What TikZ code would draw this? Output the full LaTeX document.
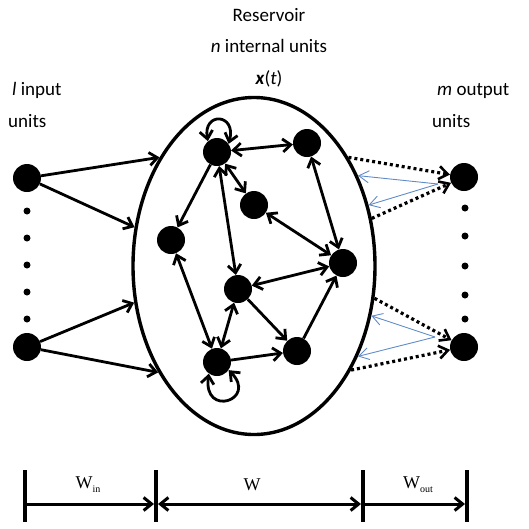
\documentclass[tikz,border=0pt]{standalone}
\usepackage{fontspec}
\setmainfont{Carlito}
\newfontfamily\timesfont{Liberation Serif}
\usetikzlibrary{arrows.meta,shapes.geometric}

\begin{document}
\begin{tikzpicture}[x=1pt,y=-1pt,
    unit/.style={circle, fill=black, inner sep=0pt, minimum size=28pt},
    link/.style={line width=2.8pt, -{Straight Barb[length=8pt,width=13pt]}},
    both/.style={line width=2.8pt, {Straight Barb[length=8pt,width=13pt]}-{Straight Barb[length=8pt,width=13pt]}},
    readout/.style={line width=3.2pt, dash pattern=on 3pt off 3pt, -{Straight Barb[length=9pt,width=13pt,line width=2.6pt]}},
    train/.style={line width=0.9pt, trainblue, -{Straight Barb[length=10pt,width=12pt]}},
    caption/.style={font=\fontsize{19}{22}\selectfont, inner sep=0pt},
    wlabel/.style={font=\timesfont\fontsize{18}{20}\selectfont, inner sep=0pt}]

    % Define colors
    \definecolor{trainblue}{RGB}{95,140,200}

    \useasboundingbox (0,0) rectangle (529,528);

    % Titles
    \node[caption, anchor=base] (title) at (269,21) {Reservoir};
    \node[caption, anchor=base] (count) at (269,52) {\textit{n} internal units};
    \node[caption, anchor=base] (state) at (269,84) {\textbf{\textit{x}}(\textit{t})};
    \node[caption, anchor=base west] (inlab) at (12,95) {\textit{l} input};
    \node[caption, anchor=base west] (inunits) at (8,127) {units};
    \node[caption, anchor=base west] (outlab) at (437,95) {\textit{m} output};
    \node[caption, anchor=base west] (outunits) at (432,127) {units};

    % Reservoir
    \node[draw, ellipse, line width=3.4pt, inner sep=0pt,
          minimum width=242pt, minimum height=337pt] (res) at (254,266) {};

    \node[unit] (a) at (217,152) {};
    \node[unit] (b) at (307,143) {};
    \node[unit] (c) at (254,205) {};
    \node[unit] (d) at (171,240) {};
    \node[unit] (e) at (343,263) {};
    \node[unit] (f) at (238,289) {};
    \node[unit] (g) at (217,362) {};
    \node[unit] (h) at (297,351) {};

    \draw[both] (a) -- (b);
    \draw[both] (a) -- (c);
    \draw[link] (a) -- (d);
    \draw[both] (a) -- (f);
    \draw[both] (b) -- (e);
    \draw[both] (c) -- (e);
    \draw[both] (f) -- (e);
    \draw[both] (d) -- (g);
    \draw[both] (f) -- (g);
    \draw[link] (f) -- (h);
    \draw[link] (g) -- (h);
    \draw[link] (h) -- (e);
    \draw[both] (a.130) .. controls +(100:30pt) and +(75:32pt) .. (a.35);
    \draw[both] (g.235) .. controls +(262:45pt) and +(315:42pt) .. (g.325);

    %-------------
    % Input units

    \node[unit] (in1) at (27,178) {};
    \node[unit] (in2) at (27,347) {};
    \foreach \y in {211,238,265,292,319}
        \fill (27,\y) circle (3.5pt);

    \draw[link] (in1) -- (res.131);
    \draw[link] (in1) -- (res.162);
    \draw[link] (in2) -- (res.197);
    \draw[link] (in2) -- (res.228);

    %-------------
    % Output units

    \node[unit] (out1) at (464,177) {};
    \node[unit] (out2) at (464,347) {};
    \foreach \y in {208,236,266,295,319}
        \fill (465,\y) circle (3.5pt);

    \draw[readout] (res.49) -- (out1);
    \draw[readout] (res.22) -- (out1);
    \draw[readout] (res.-15) -- (out2);
    \draw[readout] (res.-47) -- (out2);

    \coordinate (tap1) at (438,184);
    \coordinate (tap2) at (435,337);
    \draw[train] (tap1) -- (res.41);
    \draw[train] (tap1) -- (res.28);
    \draw[train] (tap2) -- (res.-23);
    \draw[train] (tap2) -- (res.-41);

    %-------------
    % Weight ranges

    \coordinate (w0) at (25,504);
    \coordinate (w1) at (156,504);
    \coordinate (w2) at (363,504);
    \coordinate (w3) at (467,504);
    \foreach \w in {w0,w1,w2,w3}
        \draw[line width=4.5pt] ([yshift=34pt]\w) -- ([yshift=-18pt]\w);

    \draw[link, line width=3pt] (w0) -- ([xshift=-2pt]w1);
    \draw[both, line width=3pt] ([xshift=2pt]w1) -- ([xshift=-2pt]w2);
    \draw[link, line width=3pt] (w2) -- ([xshift=-2pt]w3);

    \node[wlabel] (win) at (88,485) {W\raisebox{-4pt}{\fontsize{10}{10}\selectfont in}};
    \node[wlabel] (wres) at (252,485) {W};
    \node[wlabel] (wout) at (418,485) {W\raisebox{-4pt}{\fontsize{10}{10}\selectfont out}};

\end{tikzpicture}
\end{document}
